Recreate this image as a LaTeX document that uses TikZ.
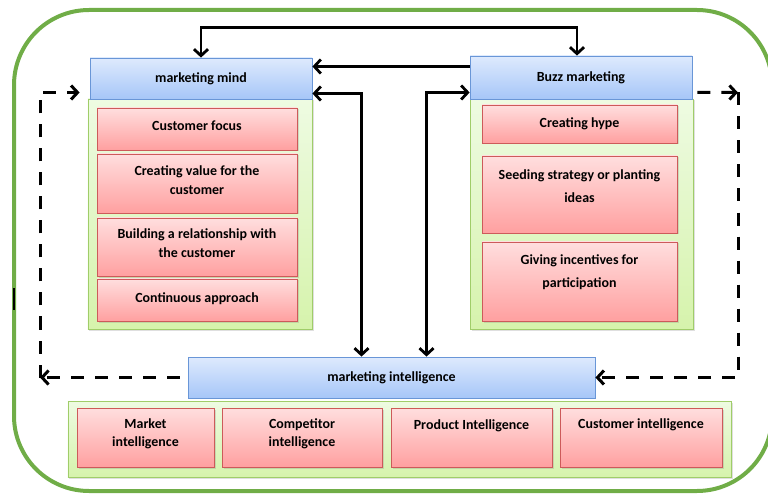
\documentclass[tikz,border=0pt]{standalone}
\usepackage{fontspec}
\setmainfont{Carlito}
\usetikzlibrary{arrows.meta,calc,positioning,shadows}

\definecolor{frame}{RGB}{112,173,71}
\definecolor{headline}{RGB}{105,150,215}
\definecolor{headtop}{RGB}{222,234,253}
\definecolor{headbot}{RGB}{166,198,248}
\definecolor{panelline}{RGB}{160,205,105}
\definecolor{paneltop}{RGB}{238,251,226}
\definecolor{panelbot}{RGB}{214,243,172}
\definecolor{cellline}{RGB}{205,90,90}
\definecolor{celltop}{RGB}{255,222,222}
\definecolor{cellbot}{RGB}{255,160,160}

\newcommand{\rows}[1]{\begin{tabular}[t]{@{}c@{}}#1\end{tabular}}

\begin{document}
\begin{tikzpicture}
[
	                x = 1bp,
	                y = -1bp,
	             font = \fontsize{14}{17}\selectfont\bfseries,
	               >= {Straight Barb[length=6.5bp,width=14bp]},
	     head/.style = { draw=headline, line width=0.8bp, top color=headtop, bottom color=headbot, inner sep=0pt },
	    panel/.style = { draw=panelline, line width=0.8bp, top color=paneltop, bottom color=panelbot,
	                     drop shadow={shadow xshift=1.5bp, shadow yshift=-1.5bp, opacity=0.25} },
	     cell/.style 2 args = { draw=cellline, line width=0.8bp, top color=celltop, bottom color=cellbot,
	                     inner sep=0pt, text height=#1bp, text depth=#2bp,
	                     drop shadow={shadow xshift=1.5bp, shadow yshift=-1.5bp, opacity=0.25} },
	     link/.style = { line width=2.8bp },
	 feedback/.style = { line width=3bp, dash pattern=on 13bp off 11bp }
]
	\useasboundingbox (0,0) rectangle (768,494);
	\clip (0,0) rectangle (768,494);

	% frame
	\draw [frame, line width=4bp, rounded corners=75bp] (14,10) rectangle (772,491);
	\draw [line width=1.2bp] (14,288) -- (14,310);

	% panels
	\node (mmpanel) at (200,214)   [panel, minimum width=224bp, minimum height=230bp] {};
	\node (bzpanel) at (581.5,214) [panel, minimum width=223bp, minimum height=230bp] {};
	\node (mipanel) at (399.5,439) [panel, minimum width=663bp, minimum height=76bp]  {};

	% headers
	\node (mm) at (201,78.5)   [head, minimum width=222bp, minimum height=41bp] {marketing mind};
	\node (bz) at (581,77.5)   [head, minimum width=222bp, minimum height=43bp] {Buzz marketing};
	\node (mi) at (391.5,377.5) [head, minimum width=407bp, minimum height=41bp] {marketing intelligence};

	% marketing mind
	\node (focus)    at (197,129)   [cell={23}{19}, minimum width=200bp] {Customer focus};
	\node (value)    at (197,183.5) [cell={22}{37}, minimum width=200bp] {\rows{Creating value for the\\[1.5bp] customer}};
	\node (bond)     at (197,247)   [cell={21}{37}, minimum width=200bp] {\rows{Building a relationship with\\[2bp] the customer}};
	\node (approach) at (197,300)   [cell={24}{18}, minimum width=200bp] {Continuous approach};

	% buzz marketing
	\node (hype)       at (579.5,124)   [cell={23}{15}, minimum width=195bp] {Creating hype};
	\node (seeding)    at (579.5,194.5) [cell={24}{53}, minimum width=195bp] {\rows{Seeding strategy or planting\\[6bp] ideas}};
	\node (incentives) at (579.5,281.5) [cell={23}{56}, minimum width=195bp] {\rows{Giving incentives for\\[6bp] participation}};

	% marketing intelligence
	\node (market)     at (145.5,437.5) [cell={20}{39}, minimum width=137bp] {\rows{Market\\[2bp] intelligence}};
	\node (competitor) at (302,437.5)   [cell={20}{39}, minimum width=160bp] {\rows{Competitor\\[2bp] intelligence}};
	\node (product)    at (471.5,437.5) [cell={21}{38}, minimum width=161bp] {Product Intelligence};
	\node (customer)   at (641,437.5)   [cell={20}{39}, minimum width=162bp] {Customer intelligence};

	% edges
	\draw [link, <->] (mm.north) -- ++(0,-30) -| ([xshift=-4bp]bz.north);
	\draw [link, ->] ([yshift=11bp]bz.west) -- ([yshift=11bp]bz.west -| mm.east);
	\draw [link, <->] ([xshift=-30bp]mi.north) |- ([yshift=-15bp]mm.east);
	\draw [link, <->] ([xshift=35bp]mi.north) |- ([yshift=-15bp]bz.west);

	% feedback loops
	\coordinate (dl) at (40,92.5);
	\coordinate (dr) at (738,92.5);
	\draw [feedback, ->] ([xshift=-8bp]mi.west) -- (mi.west -| dl);
	\draw [feedback, ->] (mi.west -| dl) -- (dl) -- ([xshift=-10bp]dl -| mm.west);
	\draw [feedback, ->] ([xshift=5bp,yshift=-15bp]bz.east) -- (dr);
	\draw [feedback, ->] (dr) |- (mi.east);
\end{tikzpicture}
\end{document}
